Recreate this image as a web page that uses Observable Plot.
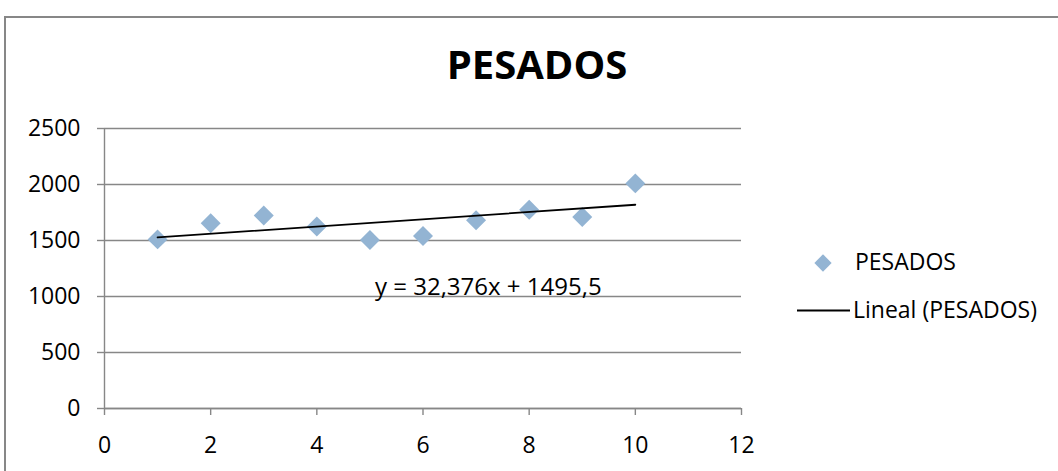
<!DOCTYPE html>
<html>
<head>
<meta charset="utf-8">
<script src="https://cdn.jsdelivr.net/npm/d3@7"></script>
<script src="https://cdn.jsdelivr.net/npm/@observablehq/plot@0.6"></script>
<style>
  html, body { margin: 0; padding: 0; background: #fff; }
  #chart { width: 1058px; height: 471px; overflow: hidden; }
  svg { font-family: "Open Sans", sans-serif; }
</style>
</head>
<body>
<div id="chart"></div>
<script>
// ---- data ----
const title = "PESADOS";
const seriesName = "PESADOS";
const trendName = "Lineal (PESADOS)";
const xValues = [1, 2, 3, 4, 5, 6, 7, 8, 9, 10];
const yValues = [1510, 1655, 1724, 1626, 1505, 1540, 1680, 1775, 1710, 2010];
const trendSlope = 32.376;
const trendIntercept = 1495.5;
const trendLabel = "y = 32,376x + 1495,5";
const xTicks = [0, 2, 4, 6, 8, 10, 12];
const yTicks = [0, 500, 1000, 1500, 2000, 2500];

const points = xValues.map((x, i) => ({x, y: yValues[i]}));
const xExtent = d3.extent(xValues);
const trend = xExtent.map(x => ({x, y: trendSlope * x + trendIntercept}));

const gray = "#878787";
const markerFill = "#93b4d3";

const plot = Plot.plot({
  width: 1058,
  height: 471,
  marginLeft: 104,
  marginRight: 317,
  marginTop: 128,
  marginBottom: 63,
  x: {domain: [0, 12]},
  y: {domain: [0, 2500]},
  style: {fontFamily: "'Open Sans', sans-serif", fontSize: "23px", color: "#000", background: "#fff"},
  marks: [
    Plot.gridY(yTicks, {stroke: gray, strokeOpacity: 1, strokeWidth: 1.4}),
    Plot.ruleX([0], {stroke: gray, strokeWidth: 1.4}),
    Plot.ruleY([0], {stroke: gray, strokeWidth: 1.4}),
    Plot.axisY(yTicks, {tickSize: 7, tickPadding: 17, stroke: gray, strokeWidth: 1.4, fill: "#000", fontSize: 23, tickFormat: d => String(d), label: null}),
    Plot.axisX(xTicks, {tickSize: 7, tickPadding: 21, stroke: gray, strokeWidth: 1.4, fill: "#000", fontSize: 23, tickFormat: d => String(d), label: null}),
    Plot.dot(points, {x: "x", y: "y", symbol: "diamond2", r: 9, fill: markerFill, stroke: "none"}),
    Plot.line(trend, {x: "x", y: "y", stroke: "#000", strokeWidth: 1.8})
  ]
});

const svg = d3.select(plot);

// chart border
svg.insert("rect", ":first-child")
  .attr("x", 5).attr("y", 17).attr("width", 1070).attr("height", 480)
  .attr("fill", "none").attr("stroke", gray).attr("stroke-width", 2);

// title
svg.append("text")
  .attr("x", 537).attr("y", 79)
  .attr("text-anchor", "middle")
  .attr("font-size", 40).attr("font-weight", "bold")
  .attr("fill", "#000")
  .text(title);

// trendline equation
svg.append("text")
  .attr("x", 375).attr("y", 295)
  .attr("text-anchor", "start")
  .attr("font-size", 24).attr("fill", "#000")
  .text(trendLabel);

// legend
const lg = svg.append("g").attr("text-anchor", "start");
lg.append("path")
  .attr("d", d3.symbol(d3.symbolDiamond2, 190)())
  .attr("transform", "translate(823,263)")
  .attr("fill", markerFill);
lg.append("text").attr("x", 855).attr("y", 270).attr("font-size", 23).attr("fill", "#000").text(seriesName);
lg.append("line").attr("x1", 797).attr("x2", 850).attr("y1", 310.5).attr("y2", 310.5)
  .attr("stroke", "#000").attr("stroke-width", 1.8);
lg.append("text").attr("x", 853).attr("y", 318).attr("font-size", 23).attr("fill", "#000").text(trendName);

document.getElementById("chart").appendChild(plot);
</script>
</body>
</html>
